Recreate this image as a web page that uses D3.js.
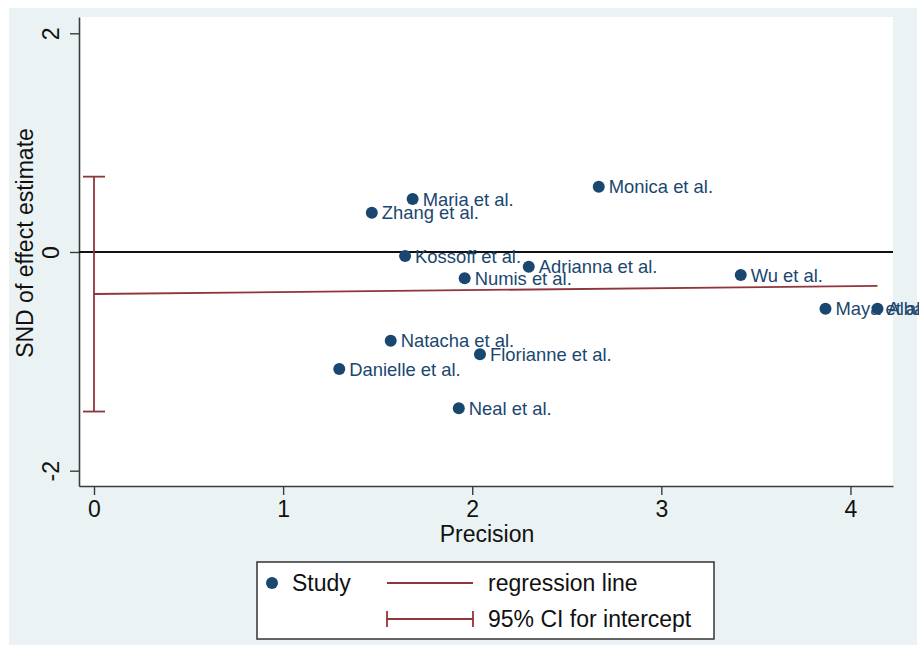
<!DOCTYPE html>
<html>
<head>
<meta charset="utf-8">
<script src="https://cdn.jsdelivr.net/npm/d3@7"></script>
<style>
  html, body { margin: 0; padding: 0; background: #ffffff; }
  svg { display: block; font-family: "Liberation Sans", Arial, Helvetica, sans-serif; }
</style>
</head>
<body>
<svg id="chart" width="919" height="647"></svg>
<script>
// Galbraith-style plot: standard normal deviate vs precision, one point per study
const studies    = ["Maria et al.", "Zhang et al.", "Monica et al.", "Kossoff et al.", "Adrianna et al.",
                    "Numis et al.", "Wu et al.", "Maya et al.", "Alba et al.", "Natacha et al.",
                    "Florianne et al.", "Danielle et al.", "Neal et al."];
const precision  = [1.685, 1.469, 2.669, 1.645, 2.299, 1.960, 3.420, 3.868, 4.143, 1.569, 2.041, 1.297, 1.929];
const snd        = [0.485, 0.359, 0.597, -0.037, -0.134, -0.241, -0.210, -0.518, -0.518, -0.811, -0.936, -1.070, -1.429];

// Regression fit and the 95% CI of its intercept
const regIntercept = -0.384;
const regSlope     = 0.0177;
const ciIntercept  = [-1.459, 0.689];

const xTicks = [0, 1, 2, 3, 4];
const yTicks = [-2, 0, 2];
const xTitle = "Precision";
const yTitle = "SND of effect estimate";
const legendItems = ["Study", "regression line", "95% CI for intercept"];

const navy = "#1a476f", maroon = "#90353b", bg = "#eaf2f3", axisCol = "#3c3c3c";
const plainNum = d => String(d);   // keeps the ASCII hyphen in "-2"

const svg = d3.select("#chart");
const plot = { left: 79, right: 893, top: 17, bottom: 486 };

const x = d3.scaleLinear().domain([-0.0793, 4.225]).range([plot.left, plot.right]);
const y = d3.scaleLinear().domain([-2.14, 2.149]).range([plot.bottom, plot.top]);

// graph region and plot region
svg.append("rect").attr("x", 9).attr("y", 8).attr("width", 908).attr("height", 637).attr("fill", bg);
svg.append("rect").attr("x", plot.left).attr("y", plot.top)
  .attr("width", plot.right - plot.left).attr("height", plot.bottom - plot.top).attr("fill", "#ffffff");

// axes
const yAxis = svg.append("g").attr("transform", `translate(${plot.left},0)`)
  .call(d3.axisLeft(y).tickValues(yTicks).tickSize(9).tickSizeOuter(0).tickFormat(plainNum));
yAxis.selectAll("text")
  .attr("x", null).attr("dy", null)
  .attr("transform", "translate(-20,0) rotate(-90)")
  .attr("text-anchor", "middle");

const xAxis = svg.append("g").attr("transform", `translate(0,${plot.bottom})`)
  .call(d3.axisBottom(x).tickValues(xTicks).tickSize(9).tickSizeOuter(0).tickFormat(plainNum));
xAxis.selectAll("text").attr("y", 31).attr("dy", null);

[yAxis, xAxis].forEach(g => {
  g.select(".domain").attr("stroke", axisCol).attr("stroke-width", 1.6);
  g.selectAll(".tick line").attr("stroke", axisCol).attr("stroke-width", 1.4);
  g.selectAll("text").attr("font-size", 23).attr("fill", "#111111")
    .attr("font-family", "Liberation Sans, Arial, sans-serif");
});

// axis titles
svg.append("text").attr("x", (plot.left + plot.right) / 2 + 1).attr("y", 542)
  .attr("text-anchor", "middle").attr("font-size", 23).attr("fill", "#111111").text(xTitle);
svg.append("text").attr("transform", "translate(33,243) rotate(-90)")
  .attr("text-anchor", "middle").attr("font-size", 23).attr("fill", "#111111").text(yTitle);

// reference line at zero
svg.append("line").attr("x1", plot.left).attr("x2", plot.right)
  .attr("y1", y(0)).attr("y2", y(0)).attr("stroke", "#111111").attr("stroke-width", 2);

// regression line over the observed precision range
const xMax = d3.max(precision);
svg.append("line")
  .attr("x1", x(0)).attr("y1", y(regIntercept))
  .attr("x2", x(xMax)).attr("y2", y(regIntercept + regSlope * xMax))
  .attr("stroke", maroon).attr("stroke-width", 1.8);

// CI for the intercept, drawn at precision 0
const capHalf = 11;
const ci = svg.append("g").attr("stroke", maroon).attr("stroke-width", 1.8);
ci.append("line").attr("x1", x(0)).attr("x2", x(0)).attr("y1", y(ciIntercept[0])).attr("y2", y(ciIntercept[1]));
ciIntercept.forEach(v => ci.append("line")
  .attr("x1", x(0) - capHalf).attr("x2", x(0) + capHalf).attr("y1", y(v)).attr("y2", y(v)));

// study markers and labels
const pts = studies.map((s, i) => ({ name: s, px: precision[i], sd: snd[i] }));
const g = svg.append("g");
g.selectAll("circle").data(pts).join("circle")
  .attr("cx", d => x(d.px)).attr("cy", d => y(d.sd)).attr("r", 6).attr("fill", navy);
g.selectAll("text").data(pts).join("text")
  .attr("x", d => x(d.px) + 10).attr("y", d => y(d.sd)).attr("dy", "0.36em")
  .attr("font-size", 18.4).attr("fill", navy).text(d => d.name);

// legend
const lg = svg.append("g");
lg.append("rect").attr("x", 257).attr("y", 562).attr("width", 457).attr("height", 77)
  .attr("fill", "#ffffff").attr("stroke", "#333333").attr("stroke-width", 1.5);
lg.append("circle").attr("cx", 272).attr("cy", 583).attr("r", 6).attr("fill", navy);
lg.append("text").attr("x", 292).attr("y", 591).attr("font-size", 23).attr("fill", "#111111").text(legendItems[0]);
lg.append("line").attr("x1", 387).attr("x2", 473).attr("y1", 583).attr("y2", 583)
  .attr("stroke", maroon).attr("stroke-width", 1.8);
lg.append("text").attr("x", 488).attr("y", 591).attr("font-size", 23).attr("fill", "#111111").text(legendItems[1]);
const lci = lg.append("g").attr("stroke", maroon).attr("stroke-width", 1.8);
lci.append("line").attr("x1", 387).attr("x2", 473).attr("y1", 619).attr("y2", 619);
[387, 473].forEach(cx => lci.append("line").attr("x1", cx).attr("x2", cx).attr("y1", 611).attr("y2", 627));
lg.append("text").attr("x", 488).attr("y", 627).attr("font-size", 23).attr("fill", "#111111").text(legendItems[2]);
</script>
</body>
</html>
